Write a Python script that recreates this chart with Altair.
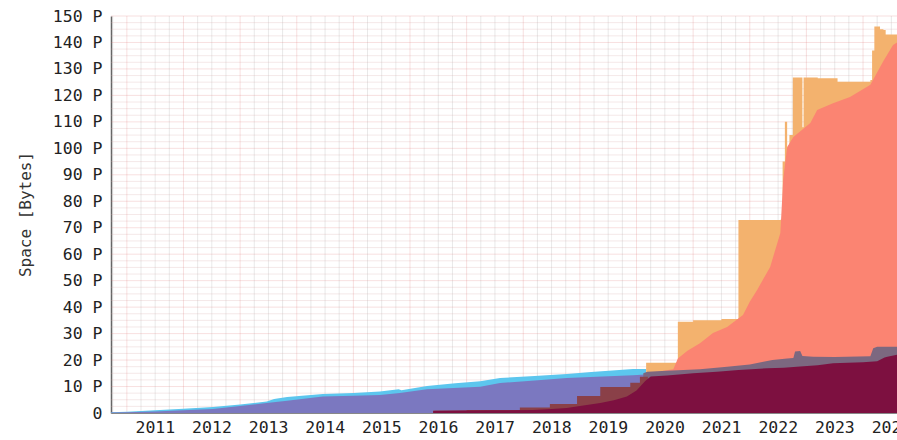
import altair as alt
import pandas as pd

# ---------------- data (decimal years, values in PB) ----------------
year_ticks = list(range(2011, 2025))
y_ticks = list(range(0, 151, 10))
quarter_grid = [2010.75 + 0.25 * i for i in range(56) if (2010.75 + 0.25 * i) % 1 != 0]
y_minor_grid = [v * 2.5 for v in range(1, 60) if (v * 2.5) % 10 != 0]

cyan_t = [2010.72, 2011.0, 2011.5, 2012.0, 2012.52, 2013.0, 2013.47, 2013.6, 2013.83, 2014.46,
          2015.0, 2015.47, 2015.8, 2015.85, 2016.3, 2016.8, 2017.24, 2017.59, 2018.2, 2018.77,
          2019.2, 2019.94, 2020.17]
cyan_v = [0.3, 0.5, 1.0, 1.6, 2.3, 3.2, 4.3, 5.3, 6.0, 7.2,
          7.6, 8.1, 9.0, 8.6, 10.2, 11.2, 12.0, 13.2, 14.0, 14.7,
          15.5, 16.6, 16.6]

purple_t = [2010.72, 2011.0, 2011.5, 2012.0, 2012.52, 2013.0, 2013.47, 2013.83, 2014.46, 2015.0,
            2015.47, 2015.82, 2016.3, 2017.24, 2017.59, 2018.2, 2018.77, 2019.4, 2019.94, 2020.15]
purple_v = [0.2, 0.3, 0.6, 1.0, 1.5, 2.6, 3.8, 4.6, 6.2, 6.5,
            6.8, 7.6, 9.0, 9.9, 11.3, 12.3, 13.2, 13.8, 14.3, 14.5]

orange_t = [2020.17, 2020.73, 2021.0, 2021.5, 2021.8, 2022.54, 2022.58, 2022.62, 2022.66, 2022.7,
            2022.76, 2022.93, 2022.95, 2023.2, 2023.55, 2024.13, 2024.16, 2024.2, 2024.3, 2024.36,
            2024.4, 2024.6]
orange_v = [19.0, 34.5, 35.0, 35.5, 72.9, 73.0, 95.0, 110.0, 100.0, 105.0,
            126.8, 108.0, 126.8, 126.5, 125.2, 125.8, 137.0, 146.0, 145.0, 144.7,
            143.0, 142.8]

salmon_t = [2020.17, 2020.65, 2020.73, 2020.9, 2021.12, 2021.35, 2021.6, 2021.88, 2022.0, 2022.13,
            2022.36, 2022.54, 2022.59, 2022.66, 2022.77, 2023.07, 2023.19, 2023.47, 2023.77, 2024.13,
            2024.36, 2024.53, 2024.6]
salmon_v = [15.0, 16.5, 20.6, 23.5, 26.4, 30.2, 32.5, 37.0, 42.0, 46.5,
            55.2, 68.0, 88.0, 100.5, 104.3, 109.6, 114.5, 117.0, 119.4, 124.0,
            133.0, 139.0, 140.0]

gray_t = [2020.12, 2020.19, 2020.54, 2021.12, 2021.6, 2022.0, 2022.24, 2022.4, 2022.66, 2022.77,
          2022.8, 2022.89, 2022.93, 2023.12, 2023.5, 2024.13, 2024.18, 2024.25, 2024.6]
gray_v = [15.0, 15.6, 16.0, 16.5, 17.5, 18.3, 19.4, 20.0, 20.6, 20.8,
          23.2, 23.4, 21.5, 21.3, 21.2, 21.4, 24.5, 25.0, 25.0]

brown_t = [2016.41, 2017.0, 2017.94, 2018.47, 2018.95, 2019.36, 2019.89, 2020.06, 2020.2]
brown_v = [0.9, 1.1, 2.1, 3.4, 6.4, 9.8, 11.4, 13.7, 13.7]

maroon_t = [2016.41, 2017.0, 2017.5, 2018.17, 2018.5, 2018.77, 2019.0, 2019.36, 2019.6, 2019.83,
            2020.0, 2020.15, 2020.25, 2020.54, 2020.8, 2021.0, 2021.42, 2021.8, 2022.31, 2022.6,
            2022.89, 2023.2, 2023.47, 2024.0, 2024.25, 2024.38, 2024.43, 2024.6]
maroon_v = [0.8, 0.9, 1.0, 1.1, 1.5, 1.9, 2.6, 3.8, 4.8, 6.2,
            8.5, 12.0, 13.8, 14.2, 14.6, 15.0, 15.6, 16.2, 16.9, 17.1,
            17.6, 18.0, 18.8, 19.2, 19.6, 21.0, 21.3, 22.0]

# ---------------- encodings ----------------
MONO = "DejaVu Sans Mono"
xscale = alt.Scale(domain=[2010.72, 2024.6], nice=False, zero=False)
yscale = alt.Scale(domain=[0, 150], nice=False, zero=True)

xaxis = alt.Axis(values=year_ticks, format="d", labelOffset=28, labelFont=MONO, labelFontSize=16.5,
                 labelColor="#222222", ticks=False, grid=False, domainColor="#888888",
                 domainWidth=1, labelPadding=6, labelFlush=False, labelOverlap=False)
yaxis = alt.Axis(values=y_ticks,
                 labelExpr="datum.value == 0 ? '0\u00a0\u00a0' : datum.value + ' P'",
                 labelFont=MONO, labelFontSize=16.5, labelColor="#222222", ticks=False, grid=False,
                 domainColor="#666666", domainWidth=1.5, labelPadding=9,
                 title="Space [Bytes]", titleFont=MONO, titleFontSize=16, titleFontWeight="normal",
                 titleColor="#333333", titleX=-86, titleY=198, titleAngle=270,
                 titleAlign="center", titleBaseline="middle")

X = alt.X("t:Q", scale=xscale, axis=xaxis, title=None)
Y = alt.Y("v:Q", scale=yscale, axis=yaxis)


def grid_v(values, color, opacity):
    return alt.Chart(pd.DataFrame({"t": values})).mark_rule(
        color=color, opacity=opacity, strokeWidth=1).encode(x=X)


def grid_h(values, color, opacity):
    return alt.Chart(pd.DataFrame({"v": values})).mark_rule(
        color=color, opacity=opacity, strokeWidth=1).encode(y=Y)


def area(ts, vs, color, interp):
    return alt.Chart(pd.DataFrame({"t": ts, "v": vs})).mark_area(
        color=color, interpolate=interp, clip=True, opacity=1).encode(x=X, y=Y)


layers = [
    grid_v(quarter_grid, "#c0c0c0", 0.35),
    grid_h(y_minor_grid, "#d8a8a8", 0.25),
    grid_v(year_ticks, "#e07070", 0.22),
    grid_h(y_ticks[1:], "#e07070", 0.22),
    area(cyan_t, cyan_v, "#5cc6ee", "linear"),
    area(purple_t, purple_v, "#7b78c0", "linear"),
    area(orange_t, orange_v, "#f3b26e", "step-after"),
    area(salmon_t, salmon_v, "#fb8472", "linear"),
    area(gray_t, gray_v, "#7c6880", "linear"),
    area(brown_t, brown_v, "#8a4048", "step-after"),
    area(maroon_t, maroon_v, "#7d1040", "linear"),
]

chart = alt.layer(*layers).properties(
    width=786, height=397,
    padding={"left": 111, "top": 16, "right": 0, "bottom": 27},
    autosize=alt.AutoSizeParams(type="none"),
    background="white",
).configure_view(stroke=None)

chart.save("out.html", embed_options={"renderer": "svg", "actions": False})
